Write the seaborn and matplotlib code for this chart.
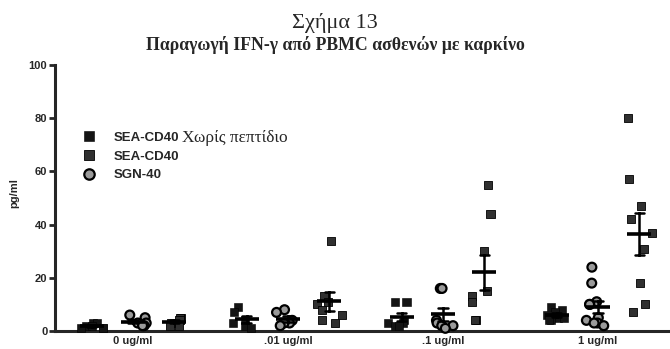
import numpy as np
import pandas as pd
import matplotlib
matplotlib.use("Agg")
import matplotlib.pyplot as plt
from matplotlib.lines import Line2D
import seaborn as sns

# Dose levels on the x axis
doses = ["0 ug/ml", ".01 ug/ml", ".1 ug/ml", "1 ug/ml"]

# Treatment groups
g_nopep = "SEA-CD40 Χωρίς πεπτίδιο"
g_sea = "SEA-CD40"
g_sgn = "SGN-40"

# IFN-γ (pg/ml) per patient, one list per dose
nopep_0 = [3, 3, 2, 2, 1, 1, 1]
nopep_01 = [9, 7, 4, 3, 2, 1]
nopep_1 = [11, 11, 4, 3, 3, 2, 2]
nopep_10 = [9, 8, 7, 6, 5, 5, 4, 4]

sea_0 = [5, 5, 4, 3, 2, 2]
sea_01 = [34, 13, 11, 10, 8, 6, 4, 3]
sea_1 = [55, 44, 30, 15, 13, 11, 4, 4]
sea_10 = [80, 57, 47, 42, 37, 31, 18, 10, 7]

sgn_0 = [6, 5, 3, 3, 2, 2]
sgn_01 = [8, 7, 4, 3, 3, 2]
sgn_1 = [16, 16, 4, 3, 2, 2, 1]
sgn_10 = [24, 18, 11, 10, 10, 5, 4, 3, 3, 2]

yticks = [0, 20, 40, 60, 80, 100]

series = {
    g_nopep: [nopep_0, nopep_01, nopep_1, nopep_10],
    g_sea: [sea_0, sea_01, sea_1, sea_10],
    g_sgn: [sgn_0, sgn_01, sgn_1, sgn_10],
}
rows = []
for grp, per_dose in series.items():
    for dose, vals in zip(doses, per_dose):
        for v in vals:
            rows.append({"dose": dose, "group": grp, "pg": v})
df = pd.DataFrame(rows)

hue_order = [g_nopep, g_sgn, g_sea]

sns.set_style("ticks")
plt.rcParams["font.family"] = ["Liberation Sans", "DejaVu Sans"]

fig = plt.figure(figsize=(6.7, 3.49), dpi=100)
ax = fig.add_axes([0.082, 0.0516, 0.918, 0.762])

styles = {
    g_nopep: dict(marker="s", color="#141414", size=5.8, edgecolor="#000000", linewidth=0.4),
    g_sgn: dict(marker="o", color="#9a9a9a", size=6.4, edgecolor="#000000", linewidth=1.6),
    g_sea: dict(marker="s", color="#303030", size=5.8, edgecolor="#000000", linewidth=0.6),
}
np.random.seed(3)
for grp in hue_order:
    st = styles[grp]
    sns.stripplot(
        data=df[df["group"] == grp], x="dose", y="pg", hue="group",
        order=doses, hue_order=hue_order, dodge=True, jitter=0.27,
        palette={g: st["color"] for g in hue_order},
        marker=st["marker"], size=st["size"], edgecolor=st["edgecolor"],
        linewidth=st["linewidth"], legend=False, ax=ax, zorder=3,
    )

# Keep only the point collections that hold data, and let them overlap the axis
for coll in list(ax.collections):
    offs = np.asarray(coll.get_offsets())
    if offs.size == 0 or not np.isfinite(offs).all():
        coll.remove()
    else:
        coll.set_clip_on(False)

# Mean ± SEM for every group
sns.pointplot(
    data=df, x="dose", y="pg", hue="group", order=doses, hue_order=hue_order,
    dodge=0.8 * 2 / 3, errorbar="se", markers="_", markersize=17,
    markeredgewidth=2.6, linestyle="none", capsize=0.06,
    palette={g: "black" for g in hue_order},
    err_kws={"linewidth": 1.8}, legend=False, ax=ax,
)
for ln in ax.lines:
    ln.set_zorder(4)

ax.set_ylim(0, 100)
ax.set_xlim(-0.503, 3.465)
ax.set_yticks(yticks)
ax.set_xlabel("")
ax.set_ylabel("pg/ml", fontsize=8, fontweight="bold")
ax.yaxis.set_label_coords(-0.058, 0.52)
sns.despine(ax=ax)
for sp in ("left", "bottom"):
    ax.spines[sp].set_linewidth(2.2)
ax.tick_params(axis="y", length=4, width=2, labelsize=8, pad=1.5)
ax.tick_params(axis="x", length=0, labelsize=8, pad=3.5)
for lab in ax.get_xticklabels() + ax.get_yticklabels():
    lab.set_fontweight("bold")

# Legend
handles = [
    Line2D([], [], linestyle="none", marker="s", markersize=7,
           markerfacecolor="#141414", markeredgecolor="black", markeredgewidth=0.4),
    Line2D([], [], linestyle="none", marker="s", markersize=7,
           markerfacecolor="#303030", markeredgecolor="black", markeredgewidth=0.6),
    Line2D([], [], linestyle="none", marker="o", markersize=7.5,
           markerfacecolor="#9a9a9a", markeredgecolor="black", markeredgewidth=1.6),
]
leg = ax.legend(
    handles, ["SEA-CD40", "SEA-CD40", "SGN-40"], loc="upper left",
    bbox_to_anchor=(0.025, 0.795), frameon=False, handlelength=1.0,
    handletextpad=1.4, labelspacing=0.5,
    prop={"family": "Liberation Sans", "weight": "bold", "size": 9.5},
)
note = ax.annotate("Χωρίς πεπτίδιο", xy=(1, 0.5), xycoords=leg.get_texts()[0],
                   xytext=(2, 0), textcoords="offset points", va="center",
                   ha="left", fontsize=12.5,
                   family=["Liberation Serif", "DejaVu Serif"])
note.set_zorder(10)

fig.text(0.5, 0.92, "Σχήμα 13", ha="center", va="baseline", fontsize=16,
         family=["Liberation Serif", "DejaVu Serif"])
fig.text(0.5, 0.857, "Παραγωγή IFN-γ από PBMC ασθενών με καρκίνο", ha="center",
         va="baseline", fontsize=12.8, fontweight="bold",
         family=["Liberation Serif", "DejaVu Serif"])

fig.savefig("out.png", dpi=100)
